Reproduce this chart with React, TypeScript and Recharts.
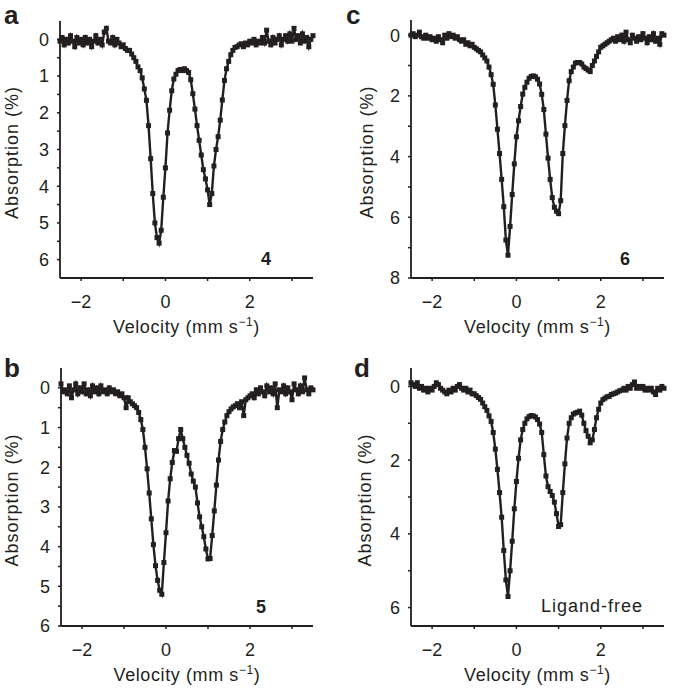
import React from 'react';
import { LineChart, Line, XAxis, YAxis } from 'recharts';

const INK = '#231f20';
const FONT = '"Liberation Sans", Arial, Helvetica, sans-serif';

// velocity channels (mm/s)
const velocity = [
  -2.5, -2.45, -2.4, -2.35, -2.3, -2.25, -2.2, -2.15, -2.1, -2.05,
  -2.0, -1.95, -1.9, -1.85, -1.8, -1.75, -1.7, -1.65, -1.6, -1.55,
  -1.5, -1.45, -1.4, -1.35, -1.3, -1.25, -1.2, -1.15, -1.1, -1.05,
  -1.0, -0.95, -0.9, -0.85, -0.8, -0.75, -0.7, -0.65, -0.6, -0.55,
  -0.5, -0.45, -0.4, -0.35, -0.3, -0.25, -0.2, -0.15, -0.1, -0.05,
  0, 0.05, 0.1, 0.15, 0.2, 0.25, 0.3, 0.35, 0.4, 0.45,
  0.5, 0.55, 0.6, 0.65, 0.7, 0.75, 0.8, 0.85, 0.9, 0.95,
  1.0, 1.05, 1.1, 1.15, 1.2, 1.25, 1.3, 1.35, 1.4, 1.45,
  1.5, 1.55, 1.6, 1.65, 1.7, 1.75, 1.8, 1.85, 1.9, 1.95,
  2.0, 2.05, 2.1, 2.15, 2.2, 2.25, 2.3, 2.35, 2.4, 2.45,
  2.5, 2.55, 2.6, 2.65, 2.7, 2.75, 2.8, 2.85, 2.9, 2.95,
  3.0, 3.05, 3.1, 3.15, 3.2, 3.25, 3.3, 3.35, 3.4, 3.45,
  3.5,
];

// absorption (%) per channel
const absorption4 = [
  0.05, -0.05, 0.15, 0.0, 0.1, -0.1, 0.05, 0.2, -0.05, 0.1,
  0.0, 0.15, -0.05, 0.1, 0.0, 0.2, 0.05, -0.1, 0.1, 0.0,
  0.15, -0.2, -0.3, 0.05, 0.1, -0.05, 0.15, 0.0, 0.1, 0.2,
  0.15, 0.25, 0.3, 0.3, 0.4, 0.5, 0.6, 0.75, 0.85, 1.05,
  1.35, 1.66, 2.35, 3.25, 4.2, 5.0, 5.4, 5.55, 5.2, 4.3,
  3.5, 2.55, 1.93, 1.4, 1.08, 0.95, 0.85, 0.82, 0.85, 0.8,
  0.85, 0.9, 1.1, 1.48, 1.9, 2.35, 2.75, 3.15, 3.55, 3.8,
  4.1, 4.5, 4.2, 3.45, 3.0, 2.65, 2.2, 1.65, 1.12, 0.8,
  0.6, 0.42, 0.3, 0.22, 0.2, 0.15, 0.12, 0.2, 0.1, 0.15,
  0.05, 0.1, 0.0, 0.15, 0.05, 0.1, -0.05, 0.1, -0.25, 0.05,
  0.15, -0.05, 0.1, 0.0, -0.1, 0.15, 0.0, -0.1, 0.05, -0.15,
  0.05, -0.3, 0.0, -0.1, 0.1, -0.15, 0.05, -0.05, 0.2, 0.0,
  -0.1,
];

const absorption5 = [
  -0.1, 0.1, 0.05, 0.15, -0.05, 0.25, 0.05, -0.1, 0.15, 0.0,
  0.1, -0.1, 0.15, 0.05, 0.2, -0.05, 0.1, 0.0, 0.15, -0.05,
  0.1, 0.05, 0.15, 0.0, 0.1, 0.05, 0.15, 0.1, 0.2, 0.15,
  0.25, 0.5, 0.25, 0.35, 0.4, 0.45, 0.5, 0.62, 0.8, 1.05,
  1.5, 2.04, 2.65, 3.3, 3.95, 4.48, 4.85, 5.1, 5.2, 4.4,
  3.65, 2.85, 2.29, 1.88, 1.58, 1.6, 1.28, 1.05, 1.28, 1.5,
  1.7, 1.9, 2.17, 2.35, 2.5, 2.9, 3.25, 3.5, 3.75, 4.06,
  4.31, 4.3, 3.72, 3.1, 2.45, 1.82, 1.35, 1.05, 0.86, 0.7,
  0.6, 0.53, 0.48, 0.45, 0.4, 0.5, 0.35, 0.7, 0.3, 0.25,
  0.2, 0.15, 0.25, 0.05, 0.15, 0.0, 0.1, 0.2, -0.05, 0.1,
  0.0, 0.15, -0.1, 0.5, 0.05, 0.1, -0.05, 0.15, 0.0, 0.1,
  0.3, -0.1, 0.05, 0.15, -0.05, 0.1, -0.25, 0.05, 0.15, 0.0,
  0.05,
];

const absorption6 = [
  0.0, -0.05, 0.05, 0.0, -0.1, 0.05, 0.1, 0.0, 0.1, 0.05,
  0.15, 0.1, 0.2, 0.05, 0.15, 0.25, 0.0, 0.1, -0.05, 0.05,
  0.0, 0.1, 0.05, 0.15, 0.2, 0.15, 0.3, 0.25, 0.35, 0.3,
  0.4, 0.45, 0.5, 0.55, 0.65, 0.75, 0.85, 1.05, 1.3, 1.62,
  2.3, 3.1, 3.9, 4.75, 5.65, 6.75, 7.25, 6.3, 5.25, 4.24,
  3.35, 2.82, 2.35, 1.94, 1.72, 1.55, 1.42, 1.36, 1.34, 1.37,
  1.45, 1.61, 1.95, 2.45, 3.26, 4.05, 4.75, 5.35, 5.67, 5.8,
  5.88, 5.45, 3.9, 2.98, 2.15, 1.5, 1.2, 1.05, 0.92, 0.9,
  0.9, 0.95, 1.05, 1.1, 1.15, 1.2, 1.0, 0.85, 0.7, 0.55,
  0.4, 0.35, 0.3, 0.25, 0.2, 0.15, 0.1, 0.2, 0.05, 0.15,
  0.0, 0.2, -0.1, 0.15, 0.25, 0.0, 0.1, 0.2, 0.05, 0.15,
  -0.05, 0.1, 0.25, 0.05, 0.15, -0.05, 0.2, 0.1, 0.3, -0.05,
  0.0,
];

const absorptionFree = [
  -0.1, -0.05, 0.0, -0.1, 0.05, 0.0, 0.1, 0.05, 0.15, 0.05,
  0.1, 0.0, -0.1, -0.05, 0.05, 0.1, 0.15, 0.2, 0.1, 0.15,
  0.05, 0.1, 0.0, -0.05, 0.05, 0.1, 0.05, 0.15, 0.1, 0.2,
  0.2, 0.25, 0.3, 0.35, 0.45, 0.55, 0.65, 0.8, 0.95, 1.25,
  1.7, 2.25, 2.88, 3.55, 4.45, 5.25, 5.7, 5.0, 4.2, 3.32,
  2.58, 1.95, 1.45, 1.17, 1.0, 0.88, 0.82, 0.79, 0.8, 0.83,
  0.9, 1.02, 1.25, 1.85, 2.43, 2.72, 2.85, 2.96, 3.14, 3.45,
  3.8, 3.75, 2.88, 2.1, 1.4, 1.0, 0.85, 0.75, 0.72, 0.7,
  0.67, 0.78, 1.0, 1.2, 1.35, 1.53, 1.45, 1.17, 0.85, 0.62,
  0.45, 0.36, 0.32, 0.28, 0.27, 0.22, 0.2, 0.18, 0.15, 0.12,
  0.1, 0.05, 0.1, 0.0, 0.05, -0.05, -0.12, 0.05, 0.0, 0.05,
  0.0, 0.1, 0.05, 0.1, 0.05, 0.15, 0.22, 0.05, 0.1, 0.0,
  0.05,
];

const xTicks = [-2, -1, 0, 1, 2, 3];
const xTickLabels = [-2, 0, 2];
const yTicksHalf = [0, 0.5, 1, 1.5, 2, 2.5, 3, 3.5, 4, 4.5, 5, 5.5, 6];
const yTickLabelsUnit = [0, 1, 2, 3, 4, 5, 6];
const yTicksEight = [0, 1, 2, 3, 4, 5, 6, 7, 8];
const yTickLabelsEight = [0, 2, 4, 6, 8];
const yTicksSix = [0, 1, 2, 3, 4, 5, 6];
const yTickLabelsSix = [0, 2, 4, 6];

const fmt = (v: number) => (v < 0 ? `\u2212${Math.abs(v)}` : String(v));

const square = (p: any) => {
  if (p.cx == null || p.cy == null) return <g key={`s-${p.index}`} />;
  return <rect key={`s-${p.index}`} x={p.cx - 2.5} y={p.cy - 2.5} width={5} height={5} fill={INK} />;
};

const xTitle = (props: any) => {
  const vb = props.viewBox || {};
  return (
    <text x={vb.x + vb.width / 2} y={vb.y + 55} textAnchor="middle" fill={INK}
      fontSize={18} fontFamily={FONT} letterSpacing={0.6}>
      Velocity (mm s<tspan dy={-7} fontSize={12}>{'\u2212'}1</tspan><tspan dy={7}>)</tspan>
    </text>
  );
};

const yTitle = (gap: number) => (props: any) => {
  const vb = props.viewBox || {};
  const x = vb.x + vb.width - gap;
  const y = vb.y + vb.height / 2 + 3;
  return (
    <text x={x} y={y} transform={`rotate(-90 ${x} ${y})`} textAnchor="middle" dominantBaseline="central"
      fill={INK} fontSize={18} fontFamily={FONT} letterSpacing={1}>
      Absorption (%)
    </text>
  );
};

interface PanelProps {
  values: number[];
  yMax: number;
  yTicks: number[];
  yLabels: number[];
  left: number;
  top: number;
  width: number;
  height: number;
  margin: { top: number; right: number; bottom: number; left: number };
  titleGap: number;
}

function Panel({ values, yMax, yTicks, yLabels, left, top, width, height, margin, titleGap }: PanelProps) {
  const rows = velocity.map((v, i) => ({ v, a: values[i] }));
  return (
    <div style={{ position: 'absolute', left, top }}>
      <LineChart width={width} height={height} data={rows} margin={margin}>
        <XAxis
          dataKey="v"
          type="number"
          domain={[-2.5, 3.5]}
          ticks={xTicks}
          interval={0}
          tickFormatter={(v: number) => (xTickLabels.includes(v) ? fmt(v) : '')}
          height={60}
          tickSize={3}
          tickMargin={14}
          axisLine={{ stroke: INK, strokeWidth: 1.8 }}
          tickLine={{ stroke: INK, strokeWidth: 1.5 }}
          tick={{ fill: INK, fontSize: 18, fontFamily: FONT }}
          label={xTitle}
        />
        <YAxis
          type="number"
          reversed
          domain={[-0.5, yMax]}
          ticks={yTicks}
          interval={0}
          tickFormatter={(v: number) => (yLabels.includes(v) ? fmt(v) : '')}
          width={48}
          tickSize={3}
          tickMargin={8}
          axisLine={{ stroke: INK, strokeWidth: 1.8 }}
          tickLine={{ stroke: INK, strokeWidth: 1.5 }}
          tick={{ fill: INK, fontSize: 18, fontFamily: FONT }}
          label={yTitle(titleGap)}
        />
        <Line
          dataKey="a"
          type="linear"
          stroke={INK}
          strokeWidth={2.4}
          dot={square}
          activeDot={false}
          isAnimationActive={false}
        />
      </LineChart>
    </div>
  );
}

export default function App() {
  const letter = { fontSize: 26, fontWeight: 700, fontFamily: FONT, fill: INK };
  const tag = { fontSize: 18, fontWeight: 700, fontFamily: FONT, fill: INK };
  return (
    <div style={{ position: 'absolute', left: 0, top: 0, width: 685, height: 695, background: '#fff' }}>
      <Panel values={absorption4} yMax={6.5} yTicks={yTicksHalf} yLabels={yTickLabelsUnit}
        left={0} top={0} width={340} height={345}
        margin={{ top: 21, right: 27, bottom: 7, left: 12 }} titleGap={48} />
      <Panel values={absorption6} yMax={8} yTicks={yTicksEight} yLabels={yTickLabelsEight}
        left={340} top={0} width={345} height={345}
        margin={{ top: 20, right: 21, bottom: 7, left: 23 }} titleGap={44} />
      <Panel values={absorption5} yMax={6} yTicks={yTicksHalf} yLabels={yTickLabelsUnit}
        left={0} top={345} width={340} height={350}
        margin={{ top: 23, right: 27, bottom: 9, left: 13 }} titleGap={49} />
      <Panel values={absorptionFree} yMax={6.5} yTicks={yTicksSix} yLabels={yTickLabelsSix}
        left={340} top={345} width={345} height={350}
        margin={{ top: 23, right: 21, bottom: 9, left: 23 }} titleGap={46} />
      <svg width={685} height={695} style={{ position: 'absolute', left: 0, top: 0, pointerEvents: 'none' }}>
        <text x={4} y={24} {...letter}>a</text>
        <text x={346} y={24} {...letter}>c</text>
        <text x={4} y={377} {...letter}>b</text>
        <text x={354} y={377} {...letter}>d</text>
        <text x={266} y={265} textAnchor="middle" {...tag}>4</text>
        <text x={625} y={265} textAnchor="middle" {...tag}>6</text>
        <text x={261} y={613} textAnchor="middle" {...tag}>5</text>
        <text x={592} y={612} textAnchor="middle" fontSize={18} fontFamily={FONT} fill={INK} letterSpacing={1}>
          Ligand-free
        </text>
      </svg>
    </div>
  );
}
